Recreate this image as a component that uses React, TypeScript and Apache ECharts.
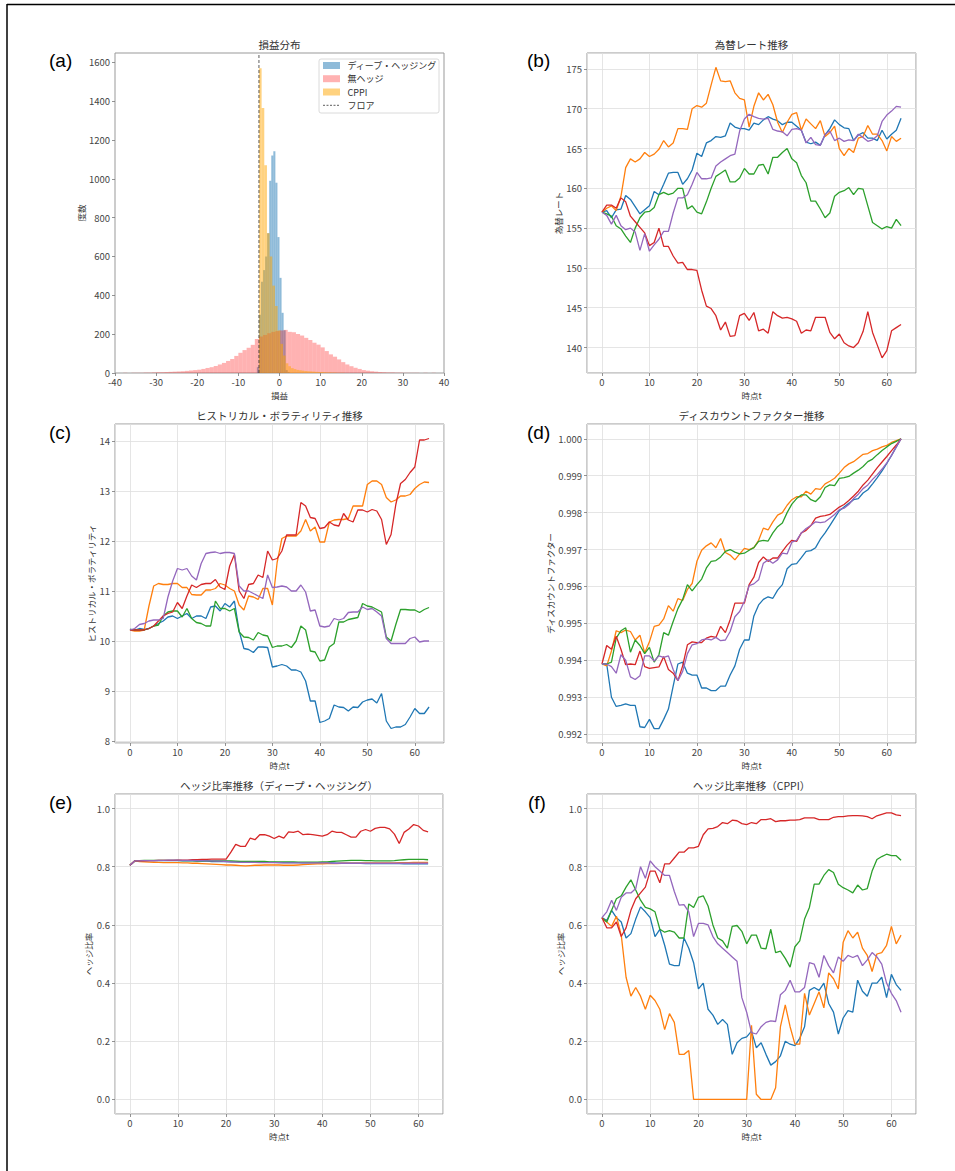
import React, { useEffect, useRef } from "react";
import * as echarts from "echarts";

const FONT = "'Noto Sans CJK JP', 'Noto Sans', sans-serif";
const C = { blue: "#1f77b4", orange: "#ff7f0e", green: "#2ca02c", red: "#d62728", purple: "#9467bd" };

// ---------- (a) 損益分布 ----------
const floorValue = -5;
const noHedgeStart = -40;
const noHedgeWidth = 1;
const noHedgeCounts = [
  0, 0, 1, 0, 1, 1, 1, 2, 2, 3,
  4, 4, 5, 6, 7, 8, 9, 11, 13, 15,
  17, 21, 26, 30, 36, 44, 52, 62, 72, 88,
  104, 118, 130, 145, 175, 188, 196, 205, 212, 216,
  219, 222, 212, 210, 201, 193, 181, 170, 156, 146,
  132, 113, 96, 84, 70, 56, 44, 35, 27, 21,
  15, 12, 9, 7, 5, 4, 3, 3, 2, 2,
  1, 1, 1, 1, 0, 1, 0, 1, 0, 0,
];
const deepStart = -5.5;
const deepWidth = 0.5;
const deepCounts = [30, 300, 470, 530, 600, 720, 990, 1120, 1142, 980, 700, 490, 310, 220, 15, 4];
const cppiStart = -5;
const cppiWidth = 0.65;
const cppiCounts = [
  1570, 1365, 1070, 720, 600, 450, 345, 220, 150, 90, 50, 35, 25, 20, 16, 14,
  12, 10, 9, 8, 7, 6, 5, 5, 4, 3, 3, 2, 2, 1, 1, 1,
];

// ---------- (b) 為替レート推移 ----------
const fxBlue = [
  157.0, 157.2, 156.3, 157.3, 157.4, 159.1, 158.6, 157.7, 156.8, 157.3,
  157.8, 159.6, 159.2, 160.5, 161.9, 162.0, 162.0, 160.5, 161.2, 162.3,
  164.4, 164.0, 165.7, 166.0, 166.5, 166.4, 166.6, 168.2, 167.7, 167.5,
  167.5, 167.3, 168.2, 168.0, 168.6, 169.0, 168.7, 168.5, 168.0, 168.3,
  168.3, 167.8, 167.3, 165.8, 165.6, 165.8, 165.4, 166.7, 167.5, 168.6,
  168.0, 167.6, 167.5, 166.0, 166.7, 167.0, 166.3, 166.3, 166.0, 167.3,
  166.2, 166.8, 167.3, 168.8,
];
const fxOrange = [
  157.0, 157.5, 157.8, 157.2, 159.0, 162.6, 163.7, 163.3, 163.7, 164.5,
  164.0, 164.3, 164.9, 166.0, 165.2, 165.7, 167.5, 167.5, 167.4, 170.0,
  170.4, 170.2, 170.7, 173.0, 175.2, 173.5, 173.4, 173.5, 172.0, 171.3,
  171.1, 167.7, 170.3, 172.0, 171.1, 171.8, 170.5, 168.3, 167.0, 168.3,
  169.3, 169.5, 167.3, 168.7, 168.1, 167.5, 168.5, 166.5, 167.0, 167.8,
  165.0, 164.1, 165.0, 164.5, 166.3, 166.5, 167.9, 166.8, 166.8, 166.0,
  164.7, 166.5, 165.9, 166.3,
];
const fxGreen = [
  157.0, 156.8, 156.5, 155.3, 154.9, 154.0, 153.2, 155.0, 156.3, 157.0,
  157.1, 157.6, 159.2, 159.5, 159.2, 159.4, 160.0, 160.0, 157.4, 157.8,
  157.0, 156.8, 158.3, 160.0, 161.5, 161.9, 162.3, 160.8, 160.8, 161.3,
  162.5, 161.8, 161.8, 162.9, 163.0, 161.8, 163.9, 163.9, 164.5, 165.0,
  163.7, 163.2, 161.6, 160.7, 158.4, 158.4, 157.4, 156.3, 156.9, 159.0,
  159.5, 159.7, 160.1, 159.2, 160.0, 159.9, 157.8, 155.7, 155.3, 154.9,
  155.2, 155.0, 156.1, 155.3,
];
const fxRed = [
  157.0, 157.9, 157.9, 157.5, 158.8, 158.3, 156.5, 155.8, 155.1, 154.4,
  152.8, 153.2, 155.0, 152.7, 152.7, 151.5, 150.6, 150.7, 149.8, 149.8,
  149.7, 147.2, 145.2, 144.9, 144.0, 142.2, 143.2, 141.4, 141.5, 144.0,
  144.3, 143.4, 144.4, 142.1, 142.3, 141.8, 144.5, 144.0, 143.7, 143.8,
  143.6, 143.3, 141.8, 142.2, 142.1, 143.8, 143.8, 143.8, 141.9, 141.1,
  141.7, 140.6, 140.2, 140.0, 140.6, 142.0, 144.5, 141.9, 140.3, 138.7,
  139.6, 142.1, 142.5, 142.9,
];
const fxPurple = [
  157.0, 156.6, 155.5, 156.6, 155.3, 154.8, 155.0, 154.5, 152.2, 154.3,
  152.1, 152.9, 153.6, 154.6, 154.6, 156.9, 158.8, 158.8, 159.2, 160.5,
  162.0, 161.2, 161.2, 161.3, 162.8, 163.3, 163.7, 164.1, 164.3, 167.2,
  168.7, 169.3, 169.0, 168.8, 168.7, 168.8, 167.4, 167.2, 167.1, 166.6,
  167.4, 167.5, 167.3, 165.7, 166.4, 165.5, 165.4, 166.8, 167.2, 166.0,
  166.3, 165.9, 166.1, 166.0, 166.8, 166.4, 165.9, 166.1, 166.6, 168.4,
  169.2, 169.7, 170.3, 170.2,
];

// ---------- (c) ヒストリカル・ボラティリティ推移 ----------
const volBlue = [
  10.23, 10.22, 10.25, 10.23, 10.25, 10.3, 10.35, 10.4, 10.48, 10.5,
  10.45, 10.5, 10.55, 10.45, 10.5, 10.5, 10.45, 10.68, 10.7, 10.6,
  10.75, 10.68, 10.8, 10.2, 9.85, 9.83, 9.77, 9.88, 9.88, 9.87,
  9.48, 9.5, 9.53, 9.5, 9.42, 9.42, 9.38, 9.2, 8.8, 8.8,
  8.37, 8.4, 8.45, 8.72, 8.68, 8.67, 8.6, 8.68, 8.67, 8.78,
  8.82, 8.84, 8.76, 8.95, 8.4, 8.25, 8.28, 8.28, 8.33, 8.48,
  8.65, 8.55, 8.55, 8.68,
];
const volOrange = [
  10.22, 10.2, 10.2, 10.22, 10.7, 11.1, 11.15, 11.13, 11.13, 11.15,
  11.15, 11.07, 11.07, 10.93, 10.92, 10.92, 11.02, 11.02, 11.05, 11.15,
  11.12, 11.05, 11.0, 10.72, 10.62, 10.9, 10.88, 10.83, 11.05, 11.05,
  10.72, 11.57, 12.05, 12.1, 12.1, 12.1, 12.2, 12.43, 12.2, 12.28,
  11.98, 11.98, 12.38, 12.42, 12.43, 12.43, 12.45, 12.7, 12.7, 12.7,
  13.13, 13.2, 13.2, 13.13, 12.87, 12.78, 12.82, 12.9, 12.9, 12.93,
  13.05, 13.13, 13.18, 13.17,
];
const volGreen = [
  10.23, 10.22, 10.22, 10.22, 10.25, 10.3, 10.32, 10.5, 10.58, 10.6,
  10.6, 10.48, 10.65, 10.45, 10.37, 10.35, 10.3, 10.3, 10.8, 10.65,
  10.65, 10.6, 10.65, 10.18, 10.08, 10.07, 10.02, 10.17, 10.12, 10.1,
  9.87, 9.9, 9.9, 9.93, 9.87, 10.0, 10.3, 10.22, 9.8, 9.78,
  9.6, 9.62, 9.88, 9.95, 10.38, 10.38, 10.43, 10.45, 10.47, 10.75,
  10.7, 10.68, 10.63, 10.58, 10.08, 10.0, 10.33, 10.63, 10.63, 10.62,
  10.62, 10.57, 10.63, 10.67,
];
const volRed = [
  10.22, 10.22, 10.22, 10.22, 10.25, 10.3, 10.4, 10.5, 10.55, 10.58,
  10.77, 10.65, 10.9, 11.12, 11.07, 11.13, 11.15, 11.15, 11.23, 11.08,
  11.03, 11.5, 11.73, 11.0, 10.85, 11.13, 11.15, 11.32, 11.27, 11.8,
  11.62, 11.65, 11.8, 12.12, 12.12, 12.12, 12.77, 12.7, 12.47, 12.45,
  12.25, 12.27, 12.38, 12.32, 12.3, 12.55, 12.42, 12.38, 12.62, 12.62,
  12.58, 12.63, 12.6, 12.43, 11.93, 12.13, 12.73, 13.15, 13.23, 13.37,
  13.48, 14.02, 14.02, 14.05,
];
const volPurple = [
  10.22, 10.25, 10.33, 10.35, 10.4, 10.42, 10.42, 10.45, 10.88, 11.2,
  11.45, 11.42, 11.45, 11.3, 11.22, 11.55, 11.75, 11.77, 11.78, 11.75,
  11.77, 11.77, 11.75, 11.1, 11.0, 11.0, 10.95, 10.9, 10.85, 11.32,
  11.07, 11.08, 11.1, 11.08, 11.0, 11.0, 11.12, 10.98, 10.6, 10.62,
  10.3, 10.28, 10.3, 10.45, 10.42, 10.45, 10.57, 10.58, 10.58, 10.68,
  10.63, 10.65, 10.58, 10.5, 10.05, 9.95, 9.95, 9.95, 9.95, 10.05,
  10.08, 9.98, 10.0, 10.0,
];

// ---------- (d) ディスカウントファクター推移 ----------
const dfBlue = [
  0.9939, 0.9939, 0.993, 0.99275, 0.99278, 0.99282, 0.99278, 0.99278, 0.9922, 0.99218,
  0.9924, 0.99215, 0.99215, 0.9924, 0.99268, 0.9933, 0.9939, 0.99395, 0.99365, 0.9936,
  0.9936, 0.99325, 0.99325, 0.99318, 0.99318, 0.9933, 0.9933, 0.9936, 0.99385, 0.9943,
  0.99455, 0.99455, 0.9952, 0.9955, 0.99565, 0.99572, 0.99568, 0.9959, 0.99605, 0.99648,
  0.9966, 0.99662, 0.99678, 0.99695, 0.99697, 0.99705, 0.99728, 0.99745, 0.99765, 0.99785,
  0.99805, 0.99815, 0.99825, 0.99835, 0.99838, 0.99853, 0.99862, 0.99878, 0.99895, 0.99913,
  0.99933, 0.99955, 0.99978, 1.0,
];
const dfOrange = [
  0.9939, 0.99385, 0.99425, 0.9948, 0.99475, 0.99482, 0.99478, 0.99455, 0.99468, 0.9942,
  0.9945, 0.99492, 0.99495, 0.99512, 0.99548, 0.99533, 0.99567, 0.99562, 0.99592, 0.99608,
  0.99668, 0.99698, 0.9971, 0.99718, 0.99705, 0.9973, 0.99692, 0.99685, 0.99672, 0.99688,
  0.99703, 0.997, 0.99705, 0.99725, 0.99758, 0.99753, 0.99775, 0.99793, 0.998, 0.9982,
  0.99835, 0.99843, 0.99843, 0.99858, 0.9985, 0.99865, 0.99863, 0.99878, 0.99885, 0.99893,
  0.99907, 0.99922, 0.99932, 0.99938, 0.99948, 0.99958, 0.9996, 0.99968, 0.99972, 0.99978,
  0.99982, 0.9999, 0.99995, 1.0,
];
const dfGreen = [
  0.9939, 0.9939, 0.99395, 0.9946, 0.9948, 0.99488, 0.99422, 0.99455, 0.9944, 0.99418,
  0.99435, 0.99395, 0.99415, 0.99475, 0.99468, 0.99505, 0.9954, 0.99565, 0.99605, 0.99588,
  0.99605, 0.9962, 0.9965, 0.99668, 0.9967, 0.9968, 0.99695, 0.997, 0.99693, 0.99688,
  0.9969, 0.99698, 0.99705, 0.99722, 0.99725, 0.99723, 0.99745, 0.99762, 0.99772, 0.998,
  0.99823, 0.99838, 0.99848, 0.99848, 0.99835, 0.9983, 0.99843, 0.99868, 0.99875, 0.99873,
  0.99893, 0.99895, 0.99898, 0.99907, 0.99915, 0.99925, 0.99938, 0.99945, 0.99957, 0.99968,
  0.99978, 0.99987, 0.99993, 1.0,
];
const dfRed = [
  0.9939, 0.9944, 0.9943, 0.99465, 0.9943, 0.99388, 0.9939, 0.99388, 0.99425, 0.99383,
  0.99378, 0.9938, 0.99382, 0.9941, 0.99375, 0.99365, 0.99345, 0.99385, 0.99442, 0.9945,
  0.99448, 0.99448, 0.9946, 0.99465, 0.99462, 0.99492, 0.99475, 0.9951, 0.99555, 0.99555,
  0.99555, 0.99605, 0.99625, 0.99665, 0.9968, 0.99668, 0.99677, 0.99677, 0.99695, 0.99712,
  0.99725, 0.99722, 0.99745, 0.99752, 0.99765, 0.99785, 0.9979, 0.99792, 0.99795, 0.99805,
  0.99815, 0.99822, 0.99833, 0.99845, 0.99858, 0.99875, 0.99888, 0.99905, 0.99922, 0.99937,
  0.99952, 0.99968, 0.99983, 1.0,
];
const dfPurple = [
  0.9939, 0.9939, 0.99383, 0.99365, 0.99415, 0.994, 0.99355, 0.99348, 0.99358, 0.99412,
  0.99412, 0.99398, 0.99412, 0.99408, 0.99412, 0.99375, 0.99345, 0.9937, 0.99418, 0.99442,
  0.99445, 0.99455, 0.99458, 0.99455, 0.99462, 0.99453, 0.99455, 0.99478, 0.99518, 0.99532,
  0.9956, 0.99602, 0.99607, 0.99618, 0.99663, 0.99672, 0.99663, 0.99672, 0.9969, 0.99688,
  0.9972, 0.99725, 0.99745, 0.99757, 0.99765, 0.99775, 0.99773, 0.99775, 0.99785, 0.99795,
  0.99808, 0.99812, 0.99822, 0.99838, 0.9985, 0.99865, 0.99875, 0.9989, 0.99903, 0.99918,
  0.99935, 0.99955, 0.99978, 1.0,
];

// ---------- (e) ヘッジ比率推移（ディープ・ヘッジング） ----------
const dhBlue = [
  0.805, 0.82, 0.82, 0.82, 0.821, 0.821, 0.821, 0.821, 0.821, 0.821,
  0.821, 0.82, 0.82, 0.82, 0.819, 0.819, 0.819, 0.818, 0.818, 0.818,
  0.818, 0.817, 0.817, 0.816, 0.816, 0.815, 0.815, 0.815, 0.815, 0.815,
  0.815, 0.814, 0.814, 0.814, 0.814, 0.814, 0.813, 0.813, 0.813, 0.813,
  0.813, 0.813, 0.813, 0.812, 0.812, 0.812, 0.812, 0.812, 0.812, 0.811,
  0.811, 0.811, 0.811, 0.811, 0.811, 0.811, 0.811, 0.81, 0.81, 0.81,
  0.81, 0.81, 0.81,
];
const dhOrange = [
  0.805, 0.82, 0.818, 0.817, 0.816, 0.815, 0.815, 0.814, 0.814, 0.814,
  0.814, 0.813, 0.813, 0.812, 0.812, 0.811, 0.81, 0.809, 0.808, 0.807,
  0.806, 0.806, 0.805, 0.804, 0.803, 0.804, 0.805, 0.805, 0.806, 0.806,
  0.806, 0.806, 0.805, 0.805, 0.805, 0.806, 0.807, 0.808, 0.809, 0.81,
  0.81, 0.811, 0.811, 0.811, 0.812, 0.812, 0.812, 0.812, 0.812, 0.813,
  0.813, 0.813, 0.813, 0.813, 0.813, 0.813, 0.814, 0.814, 0.814, 0.815,
  0.815, 0.815, 0.815,
];
const dhGreen = [
  0.805, 0.82, 0.821, 0.822, 0.822, 0.822, 0.822, 0.822, 0.822, 0.822,
  0.822, 0.821, 0.821, 0.821, 0.82, 0.82, 0.82, 0.82, 0.82, 0.82,
  0.82, 0.82, 0.819, 0.818, 0.818, 0.818, 0.818, 0.818, 0.818, 0.817,
  0.817, 0.817, 0.817, 0.817, 0.817, 0.816, 0.816, 0.816, 0.816, 0.816,
  0.817, 0.817, 0.818, 0.819, 0.82, 0.821, 0.822, 0.822, 0.822, 0.821,
  0.821, 0.82, 0.82, 0.82, 0.82, 0.821, 0.823, 0.824, 0.825, 0.825,
  0.825, 0.825, 0.824,
];
const dhRed = [
  0.805, 0.82, 0.82, 0.82, 0.821, 0.821, 0.822, 0.822, 0.822, 0.822,
  0.823, 0.823, 0.823, 0.824, 0.824, 0.825, 0.825, 0.826, 0.826, 0.826,
  0.826, 0.85, 0.877, 0.87, 0.87, 0.898, 0.893, 0.91, 0.91, 0.905,
  0.897, 0.905, 0.898, 0.92, 0.918, 0.922, 0.91, 0.912, 0.91, 0.908,
  0.905, 0.91, 0.922, 0.918, 0.918, 0.91, 0.902, 0.902, 0.922, 0.928,
  0.922, 0.932, 0.935, 0.935, 0.93, 0.912, 0.88, 0.918, 0.93, 0.945,
  0.94, 0.925, 0.92,
];
const dhPurple = [
  0.805, 0.82, 0.82, 0.821, 0.821, 0.821, 0.822, 0.822, 0.823, 0.823,
  0.823, 0.822, 0.822, 0.822, 0.821, 0.821, 0.82, 0.82, 0.819, 0.819,
  0.818, 0.817, 0.816, 0.815, 0.815, 0.815, 0.815, 0.814, 0.814, 0.814,
  0.814, 0.814, 0.813, 0.813, 0.813, 0.813, 0.813, 0.813, 0.813, 0.813,
  0.813, 0.813, 0.812, 0.812, 0.812, 0.812, 0.812, 0.812, 0.812, 0.812,
  0.812, 0.812, 0.812, 0.812, 0.812, 0.812, 0.812, 0.812, 0.812, 0.812,
  0.812, 0.812, 0.812,
];

// ---------- (f) ヘッジ比率推移（CPPI） ----------
const cpBlue = [
  0.625, 0.615, 0.65, 0.625, 0.61, 0.555, 0.57, 0.62, 0.662, 0.645,
  0.625, 0.56, 0.585, 0.53, 0.465, 0.46, 0.46, 0.555, 0.52, 0.47,
  0.38, 0.4, 0.31, 0.29, 0.258, 0.275, 0.258, 0.155, 0.195, 0.21,
  0.215, 0.235, 0.178, 0.195, 0.155, 0.118, 0.13, 0.15, 0.2, 0.19,
  0.185, 0.21, 0.25, 0.375, 0.385, 0.375, 0.4, 0.33, 0.3, 0.225,
  0.28, 0.305, 0.3, 0.41, 0.372, 0.355, 0.4, 0.4, 0.42, 0.35,
  0.43, 0.395, 0.375,
];
const cpOrange = [
  0.625, 0.61, 0.595, 0.63, 0.565, 0.42, 0.355, 0.385, 0.355, 0.31,
  0.358, 0.34, 0.31, 0.24, 0.295, 0.265, 0.155, 0.155, 0.168, 0,
  0, 0, 0, 0, 0, 0, 0, 0, 0, 0,
  0, 0.255, 0.018, 0, 0, 0, 0.04, 0.25, 0.325, 0.25,
  0.19, 0.19, 0.365, 0.29, 0.33, 0.37, 0.315, 0.435, 0.415, 0.38,
  0.54, 0.58, 0.555, 0.575, 0.52, 0.495, 0.44, 0.5, 0.505, 0.53,
  0.595, 0.535, 0.565,
];
const cpGreen = [
  0.625, 0.61, 0.65, 0.69, 0.7, 0.73, 0.755, 0.72, 0.685, 0.66,
  0.655, 0.645, 0.585, 0.575, 0.58, 0.575, 0.555, 0.555, 0.672, 0.66,
  0.695, 0.7, 0.665, 0.6, 0.555, 0.545, 0.52, 0.595, 0.598, 0.578,
  0.535, 0.565, 0.565, 0.52, 0.518, 0.585, 0.505, 0.51, 0.485, 0.455,
  0.525, 0.545, 0.62, 0.66, 0.74, 0.74, 0.77, 0.79, 0.78, 0.74,
  0.728, 0.72, 0.71, 0.737, 0.72, 0.725, 0.785, 0.825, 0.835, 0.843,
  0.838, 0.838, 0.822,
];
const cpRed = [
  0.625, 0.59, 0.59, 0.61, 0.56, 0.59, 0.65, 0.69, 0.71, 0.73,
  0.785, 0.785, 0.745, 0.81, 0.81, 0.83, 0.85, 0.85, 0.865, 0.865,
  0.87, 0.91, 0.93, 0.932, 0.938, 0.952, 0.948, 0.96, 0.958, 0.948,
  0.945, 0.952, 0.948, 0.962, 0.962, 0.965, 0.955, 0.958, 0.958, 0.96,
  0.96, 0.962, 0.968, 0.968, 0.968, 0.962, 0.962, 0.962, 0.97, 0.972,
  0.972, 0.975, 0.976, 0.976, 0.975, 0.972, 0.965, 0.975, 0.98, 0.985,
  0.985, 0.978, 0.976,
];
const cpPurple = [
  0.625, 0.645, 0.685, 0.65, 0.695, 0.71, 0.71, 0.725, 0.8, 0.76,
  0.82, 0.8, 0.785, 0.77, 0.77, 0.715, 0.668, 0.67, 0.645, 0.56,
  0.605, 0.605, 0.6, 0.56, 0.535, 0.52, 0.505, 0.49, 0.475, 0.35,
  0.3, 0.23, 0.225, 0.25, 0.265, 0.27, 0.268, 0.36, 0.375, 0.41,
  0.37, 0.37, 0.385, 0.47, 0.465, 0.42, 0.495, 0.46, 0.435, 0.49,
  0.475, 0.495, 0.488, 0.495, 0.46, 0.48, 0.505, 0.49, 0.465, 0.4,
  0.365, 0.34, 0.3,
];

const panelLabels = ["(a)", "(b)", "(c)", "(d)", "(e)", "(f)"];
const titles = [
  "損益分布",
  "為替レート推移",
  "ヒストリカル・ボラティリティ推移",
  "ディスカウントファクター推移",
  "ヘッジ比率推移（ディープ・ヘッジング）",
  "ヘッジ比率推移（CPPI）",
];
const legendNames = ["ディープ・ヘッジング", "無ヘッジ", "CPPI", "フロア"];

const HIST_COLORS = ["rgba(31,119,180,0.5)", "rgba(255,0,0,0.3)", "rgba(255,165,0,0.5)"];

function histData(start: number, width: number, counts: number[]) {
  return counts.map((c, i) => [start + i * width, start + (i + 1) * width, c]);
}
function pairs(arr: number[]) {
  return arr.map((v, i) => [i, v]);
}

const GRIDS = [
  { left: 115, top: 53, width: 329, height: 320 },
  { left: 587, top: 53, width: 329, height: 320 },
  { left: 115, top: 424, width: 329, height: 319 },
  { left: 587, top: 424, width: 329, height: 319 },
  { left: 115, top: 794, width: 328, height: 320 },
  { left: 587, top: 794, width: 329, height: 320 },
];

export default function App() {
  const ref = useRef<HTMLDivElement>(null);
  useEffect(() => {
    if (!ref.current) return;
    const chart = echarts.init(ref.current, null, { renderer: "svg" });

    const labelBase = { color: "#444", fontSize: 9.5, lineHeight: 10, fontFamily: FONT, margin: 4 };
    const tickBase = { show: true, inside: false, length: 3, lineStyle: { color: "#777", width: 0.8 } };
    const splitOn = { show: true, lineStyle: { color: "#dedede", width: 0.8 } };
    const nameStyle = { color: "#333", fontSize: 8.5, lineHeight: 9, fontFamily: FONT };
    const lineOff = { show: false, onZero: false };

    const xAxis: any[] = GRIDS.map((_, i) => {
      const base: any = {
        type: "value",
        gridIndex: i,
        axisLine: lineOff,
        axisTick: tickBase,
        nameLocation: "middle",
        nameGap: 17,
        nameTextStyle: nameStyle,
        name: i === 0 ? "損益" : "時点t",
      };
      if (i === 0) {
        return {
          ...base,
          min: -40,
          max: 40,
          interval: 10,
          splitLine: { show: false },
          axisLabel: { ...labelBase, formatter: (v: number) => String(v) },
        };
      }
      const span = i >= 4 ? [-3.1, 65.1] : [-3.15, 66.15];
      return {
        ...base,
        min: span[0],
        max: span[1],
        splitNumber: 7,
        splitLine: splitOn,
        axisLabel: { ...labelBase, showMinLabel: false, showMaxLabel: false, formatter: (v: number) => String(v) },
      };
    });

    const ySpecs: any[] = [
      { min: 0, max: 1648, interval: 200, name: "度数", nameGap: 29, split: false, showMin: true, fmt: (v: number) => String(v) },
      { min: 136.8, max: 177.0, splitNumber: 8, name: "為替レート", nameGap: 24, fmt: (v: number) => String(v) },
      { min: 7.96, max: 14.34, splitNumber: 6, name: "ヒストリカル・ボラティリティ", nameGap: 17, fmt: (v: number) => String(v) },
      { min: 0.99176, max: 1.0004, splitNumber: 8, name: "ディスカウントファクター", nameGap: 31, fmt: (v: number) => v.toFixed(3) },
      { min: -0.05, max: 1.05, splitNumber: 5, name: "ヘッジ比率", nameGap: 22, fmt: (v: number) => v.toFixed(1) },
      { min: -0.05, max: 1.05, splitNumber: 5, name: "ヘッジ比率", nameGap: 22, fmt: (v: number) => v.toFixed(1) },
    ];
    const yAxis: any[] = ySpecs.map((s, i) => {
      const ax: any = {
        type: "value",
        gridIndex: i,
        min: s.min,
        max: s.max,
        name: s.name,
        nameLocation: "middle",
        nameGap: s.nameGap,
        nameTextStyle: nameStyle,
        axisLine: lineOff,
        axisTick: tickBase,
        splitLine: s.split === false ? { show: false } : splitOn,
        axisLabel: {
          ...labelBase,
          margin: 5,
          showMinLabel: !!s.showMin,
          showMaxLabel: false,
          formatter: s.fmt,
        },
      };
      if (s.interval) ax.interval = s.interval;
      if (s.splitNumber) ax.splitNumber = s.splitNumber;
      return ax;
    });

    const histSeries = (name: string, data: number[][], color: string) => ({
      type: "custom",
      name,
      xAxisIndex: 0,
      yAxisIndex: 0,
      encode: { x: [0, 1], y: 2 },
      data,
      itemStyle: { color },
      renderItem: (_params: any, api: any) => {
        const p0 = api.coord([api.value(0), api.value(2)]);
        const p1 = api.coord([api.value(1), 0]);
        return {
          type: "rect",
          shape: { x: p0[0], y: p0[1], width: p1[0] - p0[0], height: p1[1] - p0[1] },
          style: { fill: color, stroke: "none" },
        };
      },
    });

    const lineColors = [C.blue, C.orange, C.green, C.red, C.purple];
    const lineGroup = (idx: number, arrs: number[][]) =>
      arrs.map((arr, k) => ({
        type: "line",
        name: `パス${k + 1}`,
        xAxisIndex: idx,
        yAxisIndex: idx,
        data: pairs(arr),
        showSymbol: false,
        symbol: "none",
        lineStyle: { color: lineColors[k], width: 1.3 },
        itemStyle: { color: lineColors[k] },
        z: 3 + k,
      }));

    const series: any[] = [
      histSeries(legendNames[0], histData(deepStart, deepWidth, deepCounts), HIST_COLORS[0]),
      histSeries(legendNames[1], histData(noHedgeStart, noHedgeWidth, noHedgeCounts), HIST_COLORS[1]),
      histSeries(legendNames[2], histData(cppiStart, cppiWidth, cppiCounts), HIST_COLORS[2]),
      {
        type: "line",
        name: legendNames[3],
        xAxisIndex: 0,
        yAxisIndex: 0,
        data: [
          [floorValue, 0],
          [floorValue, 1648],
        ],
        symbol: "none",
        lineStyle: { color: "#333", width: 0.8, type: [3, 2] },
        z: 10,
      },
      ...lineGroup(1, [fxBlue, fxOrange, fxGreen, fxRed, fxPurple]),
      ...lineGroup(2, [volBlue, volOrange, volGreen, volRed, volPurple]),
      ...lineGroup(3, [dfBlue, dfOrange, dfGreen, dfRed, dfPurple]),
      ...lineGroup(4, [dhBlue, dhOrange, dhGreen, dhRed, dhPurple]),
      ...lineGroup(5, [cpBlue, cpOrange, cpGreen, cpRed, cpPurple]),
    ];

    const title = GRIDS.map((g, i) => ({
      text: titles[i],
      left: g.left + g.width / 2,
      top: g.top - 14,
      textAlign: "center",
      padding: 0,
      textStyle: { fontSize: 10.5, fontWeight: "normal", color: "#333", fontFamily: FONT },
    }));

    const labelPos = [
      [49, 60.5],
      [527, 60.5],
      [49, 432],
      [527, 432],
      [49, 802],
      [528, 802],
    ];

    const legendX = 319;
    const legendY = 59;
    const rowY = [65.5, 78.7, 92, 105.3];

    const graphic: any[] = [
      { type: "line", shape: { x1: 7, y1: 4.5, x2: 955, y2: 4.5 }, style: { stroke: "#000", lineWidth: 1.5 } },
      { type: "line", shape: { x1: 7, y1: 4, x2: 7, y2: 1171 }, style: { stroke: "#000", lineWidth: 1.5 } },
      ...panelLabels.map((t, i) => ({
        type: "text",
        x: labelPos[i][0],
        y: labelPos[i][1],
        style: {
          text: t,
          fill: "#000",
          font: "19px 'Liberation Sans', Arial, sans-serif",
          align: "left",
          verticalAlign: "middle",
        },
      })),
      {
        type: "rect",
        shape: { x: legendX, y: legendY, width: 120, height: 54, r: 2 },
        style: { fill: "rgba(255,255,255,0.8)", stroke: "#d0d0d0", lineWidth: 0.8 },
        z: 20,
      },
      ...HIST_COLORS.map((c, i) => ({
        type: "rect",
        shape: { x: 323, y: rowY[i] - 3.5, width: 17, height: 7 },
        style: { fill: c },
        z: 21,
      })),
      {
        type: "line",
        shape: { x1: 323, y1: rowY[3], x2: 340, y2: rowY[3] },
        style: { stroke: "#333", lineWidth: 0.8, lineDash: [2, 1.5] },
        z: 21,
      },
      ...legendNames.map((n, i) => ({
        type: "text",
        x: 347.5,
        y: rowY[i],
        style: {
          text: n,
          fill: "#333",
          font: `9px ${FONT}`,
          align: "left",
          verticalAlign: "middle",
        },
        z: 21,
      })),
    ];

    chart.setOption({
      animation: false,
      backgroundColor: "#fff",
      title,
      grid: GRIDS.map((g) => ({ ...g, show: true, borderColor: "#999", borderWidth: 1, backgroundColor: "transparent" })),
      xAxis,
      yAxis,
      series,
      graphic,
    });
    return () => chart.dispose();
  }, []);
  return <div ref={ref} style={{ position: "absolute", left: 0, top: 0, width: 955, height: 1171 }} />;
}
